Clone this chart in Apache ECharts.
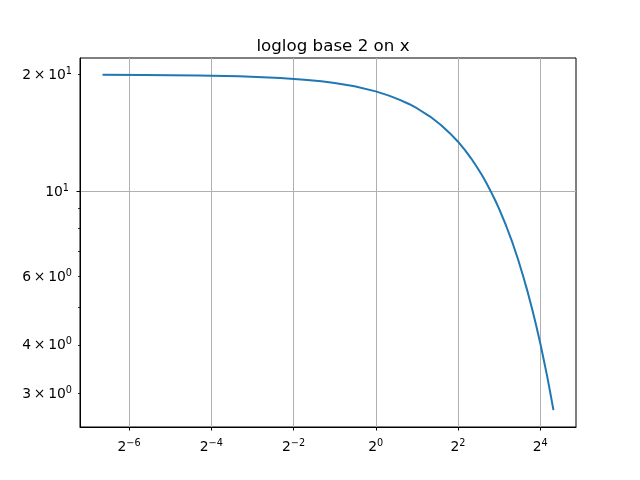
<!DOCTYPE html>
<html>
<head>
<meta charset="utf-8">
<script src="https://cdn.jsdelivr.net/npm/echarts@6/dist/echarts.min.js"></script>
<style>html,body{margin:0;padding:0;background:#fff}#c{width:640px;height:480px}</style>
</head>
<body>
<div id="c"></div>
<script>
// data
var tValues = [0.01, 0.02, 0.05, 0.1, 0.2, 0.3, 0.4, 0.5, 0.7, 1, 1.25, 1.5, 1.75, 2, 2.5, 3, 3.5, 4, 4.5, 5, 5.5, 6, 6.5, 7, 7.5, 8, 9, 10, 11, 12, 13, 14, 15, 16, 17, 18, 19, 19.99];
var yValues = [19.98, 19.96, 19.90, 19.80, 19.60, 19.41, 19.22, 19.02, 18.65, 18.10, 17.65, 17.21, 16.79, 16.37, 15.58, 14.82, 14.09, 13.41, 12.75, 12.13, 11.54, 10.98, 10.44, 9.93, 9.45, 8.99, 8.13, 7.36, 6.66, 6.02, 5.45, 4.93, 4.46, 4.04, 3.65, 3.31, 2.99, 2.71];
// tick labels
var xTickExps = [-6, -4, -2, 0, 2, 4];
var yMajorTicks = [10];
var yMinorTicks = [3, 4, 5, 6, 7, 8, 9, 20];
var yMinorLabels = [3, 4, 6, 20];
var titleText = 'loglog base 2 on x';

var xMin = Math.pow(2, -7.1922), xMax = Math.pow(2, 4.8695);
var yMin = Math.pow(10, 0.38949), yMax = Math.pow(10, 1.34399);

var FONT = 'DejaVu Sans';
var seriesData = tValues.map(function (t, i) { return [t, yValues[i]]; });
var xTickVals = xTickExps.map(function (e) { return Math.pow(2, e); });

function fmtExp(n) { return n < 0 ? '\u2212' + Math.abs(n) : String(n); }

var richBase = {
  b: { fontFamily: FONT, fontSize: 13.9, color: '#000', lineHeight: 16, verticalAlign: 'bottom' },
  s: { fontFamily: FONT, fontSize: 9.7, color: '#000', lineHeight: 10, verticalAlign: 'top' }
};

var chart = echarts.init(document.getElementById('c'), null, { renderer: 'canvas' });
chart.setOption({
  animation: false,
  backgroundColor: '#fff',
  title: {
    text: titleText, left: 328, top: 33, textAlign: 'center',
    textStyle: { fontFamily: FONT, fontSize: 16.7, fontWeight: 'normal', color: '#000' }
  },
  grid: {
    left: 80, right: 64, top: 58, bottom: 53, containLabel: false, outerBoundsMode: 'none',
    show: true, borderColor: '#000', borderWidth: 1, backgroundColor: 'transparent'
  },
  xAxis: [{
    type: 'log', logBase: 2, min: xMin, max: xMax, position: 'bottom',
    axisLine: { show: true, lineStyle: { color: '#000', width: 1 } },
    axisTick: { show: true, length: 3.5, lineStyle: { color: '#000', width: 1 }, customValues: xTickVals },
    splitLine: { show: true, lineStyle: { color: '#b0b0b0', width: 1 } },
    axisLabel: {
      customValues: xTickVals, margin: 11, rich: richBase,
      formatter: function (v) { return '{b|2}{s|' + fmtExp(Math.round(Math.log2(v))) + '}'; }
    }
  }],
  yAxis: [{
    type: 'log', logBase: 10, min: yMin, max: yMax, position: 'left',
    axisLine: { show: true, lineStyle: { color: '#000', width: 1 } },
    axisTick: { show: true, length: 3.5, lineStyle: { color: '#000', width: 1 }, customValues: yMajorTicks },
    splitLine: { show: true, lineStyle: { color: '#b0b0b0', width: 1 } },
    axisLabel: {
      customValues: yMajorTicks, margin: 11, rich: richBase,
      formatter: function (v) { return '{b|10}{s|' + fmtExp(Math.round(Math.log10(v))) + '}'; }
    }
  }, {
    type: 'log', logBase: 10, min: yMin, max: yMax, position: 'left', offset: 0,
    axisLine: { show: false },
    axisTick: { show: true, length: 2, lineStyle: { color: '#000', width: 0.8 }, customValues: yMinorTicks },
    splitLine: { show: false },
    axisLabel: {
      customValues: yMinorLabels, margin: 8, rich: richBase,
      formatter: function (v) {
        var e = Math.floor(Math.log10(v) + 1e-9);
        var m = Math.round(v / Math.pow(10, e));
        return '{b|' + m + '\u2009\u00d7\u200910}{s|' + fmtExp(e) + '}';
      }
    }
  }],
  series: [{
    type: 'line', xAxisIndex: 0, yAxisIndex: 0, data: seriesData,
    showSymbol: false, symbol: 'none', smooth: false,
    lineStyle: { color: '#1f77b4', width: 2 }, itemStyle: { color: '#1f77b4' }
  }]
});
</script>
</body>
</html>
